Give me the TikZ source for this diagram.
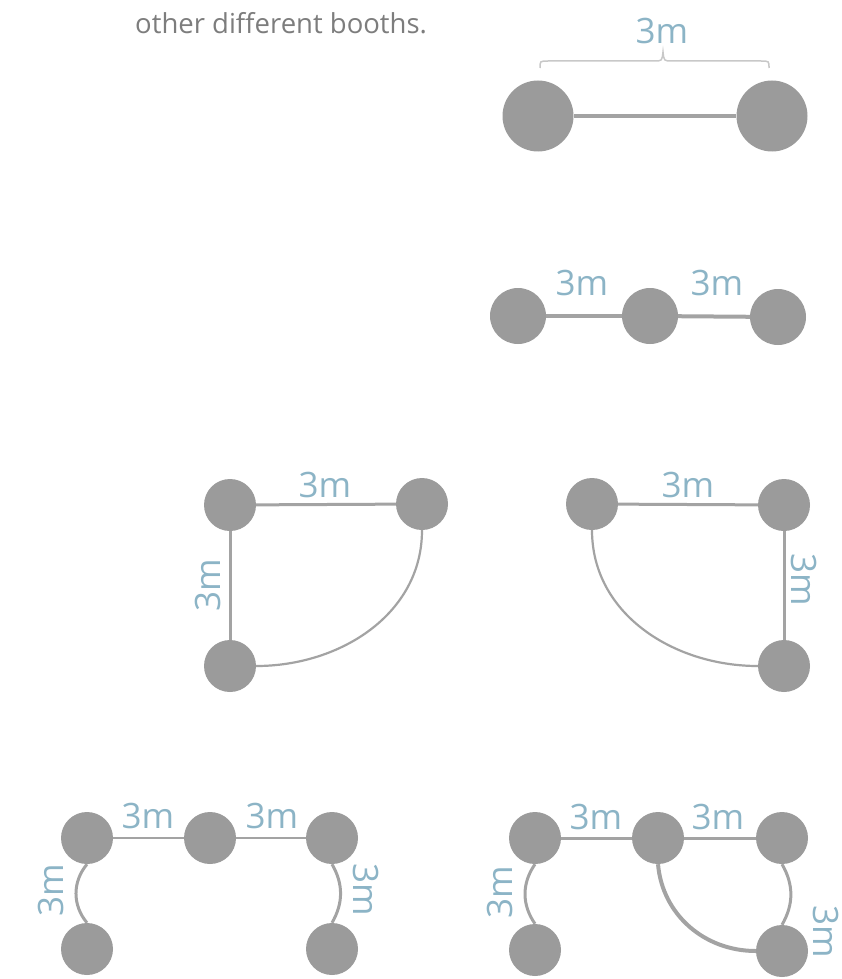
\documentclass[tikz,border=0pt]{standalone}
\usepackage{fontspec}
\setmainfont{Open Sans}
\definecolor{booth}{RGB}{155,155,155}
\definecolor{wire}{RGB}{163,163,163}
\definecolor{lbl}{RGB}{140,180,198}
\definecolor{capgray}{RGB}{125,125,125}
\definecolor{bracegray}{RGB}{200,200,200}
\begin{document}
\begin{tikzpicture}[x=1pt,y=1pt,
  boothbig/.style={circle,fill=booth,draw=none,minimum size=71pt,inner sep=0},
  boothmid/.style={circle,fill=booth,draw=none,minimum size=56pt,inner sep=0},
  boothsm/.style={circle,fill=booth,draw=none,minimum size=52pt,inner sep=0},
  wireline/.style={draw=wire,line width=3pt},
  dist/.style={text=lbl,inner sep=0,font=\fontsize{35}{40}\selectfont}]
\useasboundingbox (0,0) rectangle (841,-979);

\node[anchor=base west,inner sep=0,text=capgray,font=\fontsize{27.5}{32}\selectfont] (caption) at (135,-34) {other different booths.};

% top pair
\node[boothbig] (a1) at (538,-116) {};
\node[boothbig] (a2) at (772,-116) {};
\draw[wireline,line width=3.5pt] (a1) -- (a2);
\coordinate (bl) at (540,-68);
\coordinate (br) at (769,-68);
\coordinate (bt) at (663,-52);
\draw[draw=bracegray,line width=1.5pt] (bl) .. controls (540,-61) .. (548,-61) -- (654,-61) .. controls (662,-61) .. (bt) .. controls (664,-61) .. (672,-61) -- (761,-61) .. controls (769,-61) .. (br);
\node[dist] (ta) at (662,-31) {3m};

% row 2
\node[boothmid] (b1) at (518,-316) {};
\node[boothmid] (b2) at (650,-316) {};
\node[boothmid] (b3) at (778,-317) {};
\draw[wireline,line width=4pt] (b1) -- (b2);
\draw[wireline,line width=4pt] (b2) -- (b3);
\node[dist] (tb1) at (582,-283) {3m};
\node[dist] (tb2) at (717,-283) {3m};

% row 3 left
\node[boothsm] (c1) at (230,-505) {};
\node[boothsm] (c2) at (422,-504) {};
\node[boothsm] (c3) at (230,-666) {};
\draw[wireline] (c1) -- (c2);
\draw[wireline] (c1) -- (c3);
\draw[draw=wire,line width=2.2pt] (c2.south) to[out=-90,in=0] (c3.east);
\node[dist] (tc1) at (325,-485) {3m};
\node[dist,rotate=90] (tc2) at (208,-585) {3m};

% row 3 right
\node[boothsm] (d1) at (592,-504) {};
\node[boothsm] (d2) at (784,-505) {};
\node[boothsm] (d3) at (784,-666) {};
\draw[wireline] (d1) -- (d2);
\draw[wireline] (d2) -- (d3);
\draw[draw=wire,line width=2.2pt] (d1.south) to[out=-90,in=180] (d3.west);
\node[dist] (td1) at (688,-485) {3m};
\node[dist,rotate=-90] (td2) at (804,-580) {3m};

% row 4 left
\node[boothsm] (e1) at (87,-838) {};
\node[boothsm] (e2) at (210,-838) {};
\node[boothsm] (e3) at (332,-838) {};
\node[boothsm] (e4) at (87,-949) {};
\node[boothsm] (e5) at (332,-949) {};
\draw[wireline,line width=2.6pt] (e1) -- (e2);
\draw[wireline,line width=2.6pt] (e2) -- (e3);
\draw[wireline] (e1.south) to[bend right=40] (e4.north);
\draw[wireline] (e3.south) to[bend left=30] (e5.north);
\node[dist] (te1) at (148,-816) {3m};
\node[dist] (te2) at (272,-816) {3m};
\node[dist,rotate=90] (te3) at (51,-890) {3m};
\node[dist,rotate=-90] (te4) at (366,-890) {3m};

% row 4 right
\node[boothsm] (f1) at (535,-838) {};
\node[boothsm] (f2) at (658,-838) {};
\node[boothsm] (f3) at (782,-838) {};
\node[boothsm] (f4) at (535,-950) {};
\node[boothsm] (f5) at (782,-951) {};
\draw[wireline] (f1) -- (f2);
\draw[wireline] (f2) -- (f3);
\draw[wireline] (f1.south) to[bend right=35] (f4.north);
\draw[wireline] (f3.south) to[bend left=30] (f5.north);
\draw[wireline,line width=4pt] (f2.south) to[out=-85,in=180] (f5.west);
\node[dist] (tf1) at (596,-817) {3m};
\node[dist] (tf2) at (718,-817) {3m};
\node[dist,rotate=90] (tf3) at (500,-892) {3m};
\node[dist,rotate=-90] (tf4) at (826,-932) {3m};
\end{tikzpicture}
\end{document}
